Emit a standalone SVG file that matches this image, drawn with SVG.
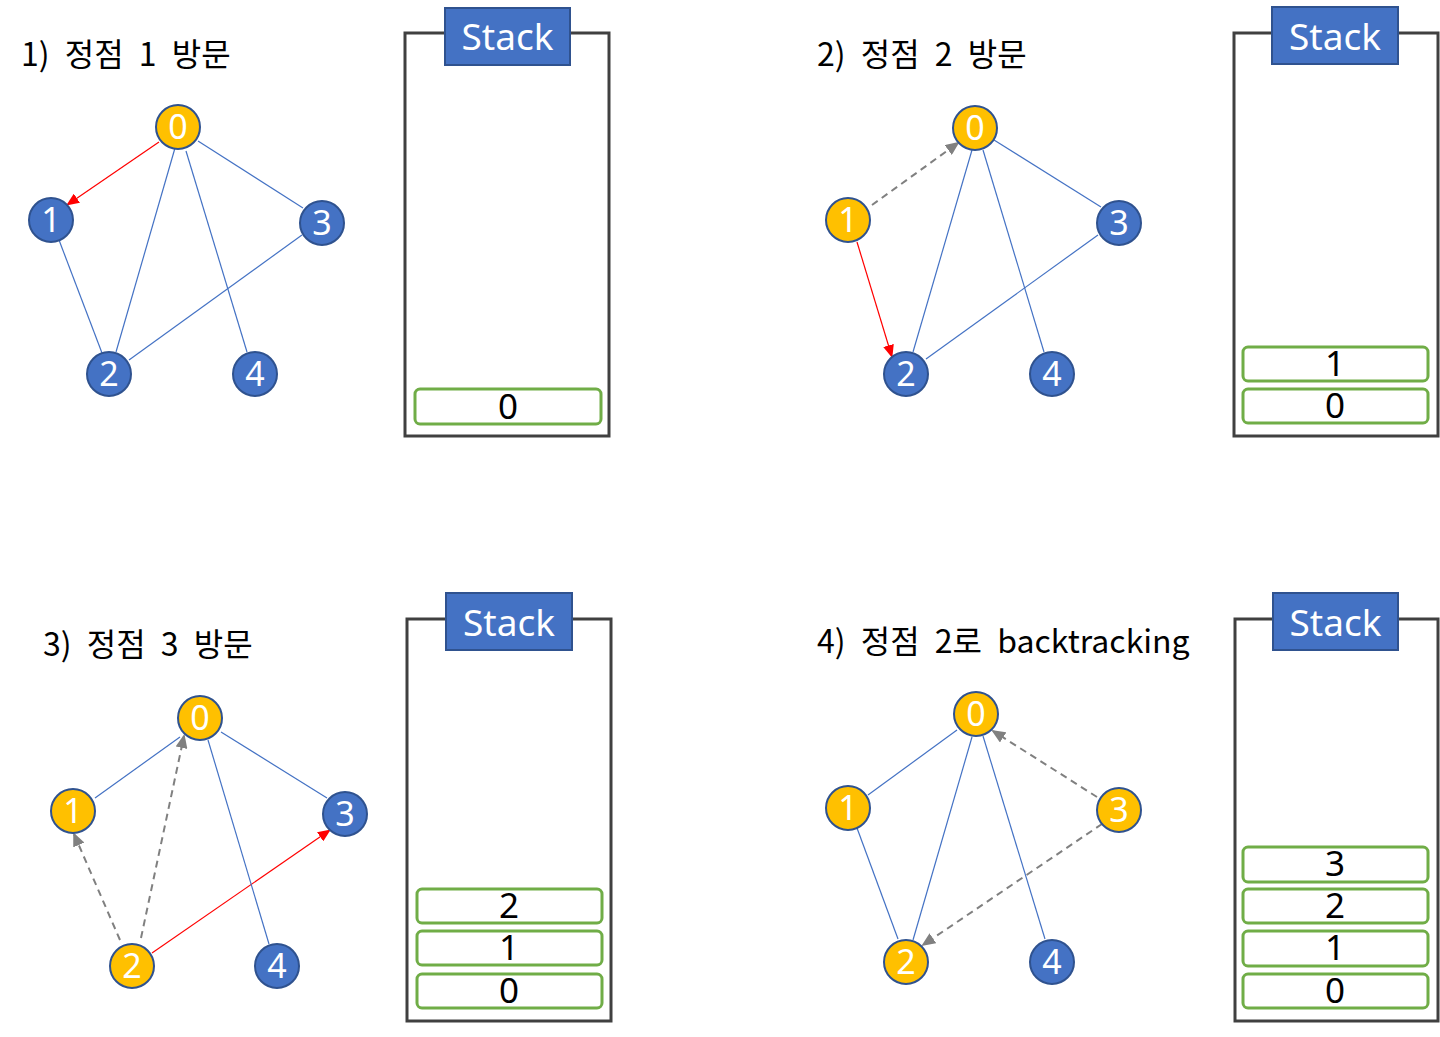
<svg xmlns="http://www.w3.org/2000/svg" width="1440" height="1037" viewBox="0 0 1440 1037">
<style>
.bg{fill:#ffffff}
.title{font-family:"Noto Sans CJK KR","Noto Sans",sans-serif;font-size:32px;fill:#000000;word-spacing:8px}
.nb{fill:#4472C4;stroke:#2F528F;stroke-width:2}
.ny{fill:#FFC000;stroke:#2F528F;stroke-width:2}
.nt{font-family:"Noto Sans","Open Sans",sans-serif;font-size:34px;fill:#ffffff;text-anchor:middle}
.e{stroke:#4472C4;stroke-width:1.2;fill:none}
.r{stroke:#FF0000;stroke-width:1.2;fill:none;marker-end:url(#ar)}
.d{stroke:#808080;stroke-width:2;stroke-dasharray:7,5;fill:none;marker-end:url(#ag)}
.box{fill:#ffffff;stroke:#404040;stroke-width:3}
.hdr{fill:#4472C4;stroke:#2F528F;stroke-width:2}
.ht{font-family:"Noto Sans","Open Sans",sans-serif;font-size:37px;fill:#ffffff;text-anchor:middle}
.it{fill:#ffffff;stroke:#70AD47;stroke-width:3}
.itt{font-family:"Noto Sans","Open Sans",sans-serif;font-size:35px;fill:#000000;text-anchor:middle}
</style>
<defs>
<marker id="ar" markerUnits="userSpaceOnUse" markerWidth="13" markerHeight="11" refX="12" refY="5.5" orient="auto"><path d="M0,0 L13,5.5 L0,11 z" fill="#FF0000"/></marker>
<marker id="ag" markerUnits="userSpaceOnUse" markerWidth="14" markerHeight="12" refX="12" refY="6" orient="auto"><path d="M0,0 L14,6 L0,12 z" fill="#808080"/></marker>
</defs>
<rect class="bg" x="0" y="0" width="1440" height="1037"/>

<!-- Panel 1 -->
<g id="panel1">
<text class="title" x="21" y="66">1) 정점 1 방문</text>
<g id="p1-connectors">
<line class="r" x1="159" y1="142" x2="67" y2="205"/>
<line class="e" x1="175" y1="148" x2="116" y2="352"/>
<line class="e" x1="186" y1="151" x2="247" y2="352"/>
<line class="e" x1="198" y1="141" x2="303" y2="208"/>
<line class="e" x1="59" y1="240" x2="102" y2="353"/>
<line class="e" x1="129" y1="360" x2="302" y2="235"/>
</g>
<g id="p1-n0"><circle class="ny" cx="178" cy="127" r="22"/><text class="nt" x="178" y="139">0</text></g>
<g id="p1-n1"><circle class="nb" cx="51" cy="220" r="22"/><text class="nt" x="51" y="232">1</text></g>
<g id="p1-n2"><circle class="nb" cx="109" cy="374" r="22"/><text class="nt" x="109" y="386">2</text></g>
<g id="p1-n3"><circle class="nb" cx="322" cy="223" r="22"/><text class="nt" x="322" y="235">3</text></g>
<g id="p1-n4"><circle class="nb" cx="255" cy="374" r="22"/><text class="nt" x="255" y="386">4</text></g>
<g id="p1-stack">
<rect class="box" x="405" y="33" width="204" height="403"/>
<rect class="hdr" x="445" y="8" width="125" height="57"/>
<text class="ht" x="507.5" y="50">Stack</text>
<rect class="it" x="415" y="389" width="186" height="35" rx="5"/>
<text class="itt" x="508" y="419">0</text>
</g>
</g>

<!-- Panel 2 -->
<g id="panel2">
<text class="title" x="817" y="66">2) 정점 2 방문</text>
<g id="p2-connectors">
<line class="d" x1="872" y1="205" x2="958" y2="143"/>
<line class="r" x1="857" y1="242" x2="892" y2="357"/>
<line class="e" x1="972" y1="150" x2="913" y2="352"/>
<line class="e" x1="983" y1="150" x2="1044" y2="352"/>
<line class="e" x1="994" y1="140" x2="1101" y2="207"/>
<line class="e" x1="926" y1="359" x2="1098" y2="235"/>
</g>
<g id="p2-n0"><circle class="ny" cx="975" cy="128" r="22"/><text class="nt" x="975" y="140">0</text></g>
<g id="p2-n1"><circle class="ny" cx="848" cy="220" r="22"/><text class="nt" x="848" y="232">1</text></g>
<g id="p2-n2"><circle class="nb" cx="906" cy="374" r="22"/><text class="nt" x="906" y="386">2</text></g>
<g id="p2-n3"><circle class="nb" cx="1119" cy="223" r="22"/><text class="nt" x="1119" y="235">3</text></g>
<g id="p2-n4"><circle class="nb" cx="1052" cy="374" r="22"/><text class="nt" x="1052" y="386">4</text></g>
<g id="p2-stack">
<rect class="box" x="1234" y="33" width="204" height="403"/>
<rect class="hdr" x="1272" y="7" width="126" height="57"/>
<text class="ht" x="1335" y="50">Stack</text>
<rect class="it" x="1243" y="347" width="185" height="34" rx="5"/>
<text class="itt" x="1335" y="376">1</text>
<rect class="it" x="1243" y="389" width="185" height="34" rx="5"/>
<text class="itt" x="1335" y="418">0</text>
</g>
</g>

<!-- Panel 3 -->
<g id="panel3">
<text class="title" x="43" y="656">3) 정점 3 방문</text>
<g id="p3-connectors">
<line class="e" x1="180" y1="737" x2="95" y2="798"/>
<line class="d" x1="120" y1="940" x2="74" y2="834"/>
<line class="d" x1="141" y1="938" x2="184" y2="736"/>
<line class="r" x1="152" y1="953" x2="330" y2="830"/>
<line class="e" x1="221" y1="732" x2="327" y2="798"/>
<line class="e" x1="208" y1="740" x2="269" y2="944"/>
</g>
<g id="p3-n0"><circle class="ny" cx="200" cy="718" r="22"/><text class="nt" x="200" y="730">0</text></g>
<g id="p3-n1"><circle class="ny" cx="73" cy="811" r="22"/><text class="nt" x="73" y="823">1</text></g>
<g id="p3-n2"><circle class="ny" cx="132" cy="966" r="22"/><text class="nt" x="132" y="978">2</text></g>
<g id="p3-n3"><circle class="nb" cx="345" cy="814" r="22"/><text class="nt" x="345" y="826">3</text></g>
<g id="p3-n4"><circle class="nb" cx="277" cy="966" r="22"/><text class="nt" x="277" y="978">4</text></g>
<g id="p3-stack">
<rect class="box" x="407" y="619" width="204" height="402"/>
<rect class="hdr" x="446" y="593" width="126" height="57"/>
<text class="ht" x="509" y="636">Stack</text>
<rect class="it" x="417" y="889" width="185" height="34" rx="5"/>
<text class="itt" x="509" y="918">2</text>
<rect class="it" x="417" y="931" width="185" height="34" rx="5"/>
<text class="itt" x="509" y="960">1</text>
<rect class="it" x="417" y="974" width="185" height="34" rx="5"/>
<text class="itt" x="509" y="1003">0</text>
</g>
</g>

<!-- Panel 4 -->
<g id="panel4">
<text class="title" x="817" y="653">4) 정점 2로 backtracking</text>
<g id="p4-connectors">
<line class="e" x1="957" y1="730" x2="868" y2="795"/>
<line class="e" x1="857" y1="828" x2="898" y2="939"/>
<line class="e" x1="972" y1="737" x2="913" y2="940"/>
<line class="e" x1="983" y1="736" x2="1045" y2="939"/>
<line class="d" x1="1097" y1="797" x2="993" y2="731"/>
<line class="d" x1="1102" y1="824" x2="923" y2="945"/>
</g>
<g id="p4-n0"><circle class="ny" cx="976" cy="714" r="22"/><text class="nt" x="976" y="726">0</text></g>
<g id="p4-n1"><circle class="ny" cx="848" cy="808" r="22"/><text class="nt" x="848" y="820">1</text></g>
<g id="p4-n2"><circle class="ny" cx="906" cy="962" r="22"/><text class="nt" x="906" y="974">2</text></g>
<g id="p4-n3"><circle class="ny" cx="1119" cy="810" r="22"/><text class="nt" x="1119" y="822">3</text></g>
<g id="p4-n4"><circle class="nb" cx="1052" cy="962" r="22"/><text class="nt" x="1052" y="974">4</text></g>
<g id="p4-stack">
<rect class="box" x="1235" y="619" width="203" height="402"/>
<rect class="hdr" x="1273" y="593" width="125" height="57"/>
<text class="ht" x="1335.5" y="636">Stack</text>
<rect class="it" x="1243" y="847" width="185" height="35" rx="5"/>
<text class="itt" x="1335" y="876">3</text>
<rect class="it" x="1243" y="889" width="185" height="34" rx="5"/>
<text class="itt" x="1335" y="918">2</text>
<rect class="it" x="1243" y="931" width="185" height="35" rx="5"/>
<text class="itt" x="1335" y="960">1</text>
<rect class="it" x="1243" y="974" width="185" height="34" rx="5"/>
<text class="itt" x="1335" y="1003">0</text>
</g>
</g>
</svg>
